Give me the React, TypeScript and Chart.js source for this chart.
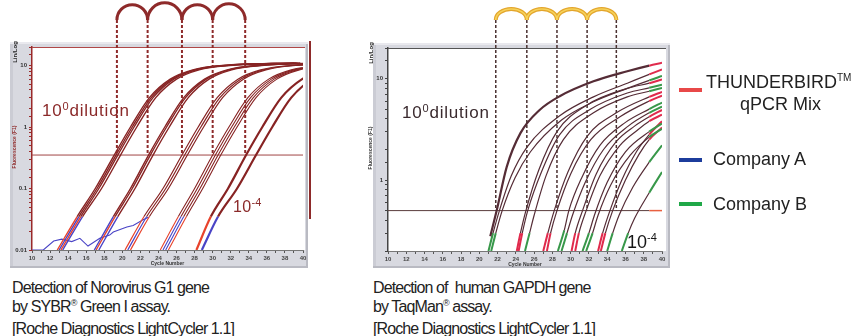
import React, { useEffect, useRef } from 'react';
import { Chart, registerables } from 'chart.js';

Chart.register(...registerables);

// ---------------- shared axis data ----------------
const CYCLE_MIN = 10;
const CYCLE_MAX = 40;
const CYCLE_LABELS = [10, 12, 14, 16, 18, 20, 22, 24, 26, 28, 30, 32, 34, 36, 38, 40];

// ---------------- left panel: Norovirus G1, SYBR Green ----------------
const LEFT_Y_MIN = 0.01;
const LEFT_Y_MAX = 20;
const LEFT_Y_LABEL_VALUES = [0.01, 0.1, 1, 10];
const LEFT_Y_LABELS = ['0.01', '0.1', '1', '10'];
const LEFT_THRESHOLD = 0.35;
const LEFT_CT = [19.4, 22.8, 26.6, 30.0, 33.6];
// fluorescence levels; each curve lists the cycle at which it reaches each level
const LEFT_LEVELS = [0.01, 0.035, 0.1, 0.35, 1, 3, 6, 8.5, 10, 11];
const LEFT_CURVES = [
  [12.8, 15.0, 17.0, 19.1, 20.9, 23.0, 25.3, 27.8, 31.1, 39.0],
  [13.0, 15.2, 17.2, 19.3, 21.1, 23.2, 25.5, 28.0, 31.3, 39.2],
  [13.2, 15.4, 17.4, 19.5, 21.3, 23.4, 25.7, 28.2, 31.5, 39.4],
  [13.4, 15.6, 17.7, 19.8, 21.6, 23.7, 26.0, 28.5, 31.8, 39.7],
  [16.9, 19.0, 20.9, 22.9, 24.7, 26.8, 29.1, 31.6, 34.9, 42.9],
  [17.1, 19.2, 21.1, 23.1, 24.9, 27.0, 29.3, 31.8, 35.1, 43.1],
  [17.4, 19.5, 21.4, 23.4, 25.2, 27.3, 29.6, 32.1, 35.4, 43.4],
  [20.3, 22.4, 24.5, 26.6, 28.4, 30.5, 32.8, 35.3, 38.6, 46.6],
  [20.6, 22.7, 24.8, 26.9, 28.7, 30.8, 33.1, 35.6, 38.9, 46.9],
  [20.9, 23.0, 25.1, 27.2, 29.0, 31.1, 33.4, 35.9, 39.2, 47.2],
  [24.2, 26.2, 28.0, 30.0, 31.8, 33.9, 36.2, 38.7, 42.0, 50.0],
  [24.5, 26.5, 28.3, 30.3, 32.1, 34.2, 36.5, 39.0, 42.3, 50.3],
  [24.8, 26.8, 28.6, 30.6, 32.4, 34.5, 36.8, 39.3, 42.6, 50.6],
  [25.1, 27.1, 28.9, 30.9, 32.7, 34.8, 37.1, 39.6, 42.9, 50.9],
  [28.2, 29.8, 31.7, 33.7, 35.5, 37.6, 39.9, 42.4, 45.7, 53.7],
  [28.8, 30.6, 32.7, 34.8, 36.6, 38.7, 41.0, 43.5, 46.8, 54.8],
];
// kit that the early (baseline) part of each curve belongs to
const LEFT_START_KIT = ['T', 'A', 'T', 'A', 'A', 'T', 'A', 'T', 'A', 'T', 'T', 'A', 'A', 'T', 'T', 'A'];
const LEFT_NOISE_X = [10, 11.25, 12.4, 13.3, 14.4, 15.3, 16.2, 17.5, 18.6, 19.0, 20.5, 21.2, 22.3, 22.9];
const LEFT_NOISE_Y = [0.01, 0.01, 0.014, 0.015, 0.0137, 0.0155, 0.0116, 0.0155, 0.0175, 0.0196, 0.0236, 0.025, 0.031, 0.034];

// ---------------- right panel: human GAPDH, TaqMan ----------------
const RIGHT_Y_MIN = 0.2;
const RIGHT_Y_MAX = 20;
const RIGHT_Y_LABEL_VALUES = [1, 10];
const RIGHT_Y_LABELS = ['1', '10'];
const RIGHT_THRESHOLD = 0.5;
const RIGHT_THRESHOLD_MARK_FROM = 38.6;
const RIGHT_CT = [21.8, 25.2, 28.5, 31.8, 35.0];
const RIGHT_CURVES = [
  [[21.2, 0.28], [21.9, 0.5], [23.0, 1.35], [24.5, 2.9], [26.6, 4.9], [28.8, 6.7], [32.5, 9.4], [36.2, 11.8], [38.6, 13.4], [40, 14.3]],
  [[21.0, 0.2], [21.5, 0.3], [22.2, 0.5], [23.5, 1.1], [25.2, 2.1], [28.8, 4.3], [32.5, 6.6], [36.2, 9.0], [38.6, 11.0], [40, 12.3]],
  [[21.3, 0.2], [21.8, 0.3], [22.5, 0.5], [23.9, 1.05], [25.6, 1.9], [29.0, 3.9], [32.5, 5.9], [36.2, 8.0], [38.6, 9.6], [40, 10.6]],
  [[24.1, 0.2], [24.5, 0.3], [25.1, 0.5], [26.5, 1.25], [28.5, 3.0], [31.8, 5.5], [36.2, 8.0], [38.6, 9.0], [40, 9.8]],
  [[24.3, 0.2], [24.7, 0.3], [25.3, 0.5], [26.8, 1.2], [28.8, 2.8], [32.2, 5.0], [36.2, 7.2], [38.6, 8.1], [40, 8.7]],
  [[25.0, 0.2], [25.5, 0.3], [26.0, 0.45], [27.3, 1.1], [29.2, 2.5], [32.5, 4.6], [36.2, 6.6], [38.6, 7.5], [40, 8.1]],
  [[27.0, 0.2], [27.5, 0.3], [28.2, 0.5], [29.7, 1.2], [31.8, 2.7], [35.0, 4.6], [38.6, 6.6], [40, 7.4]],
  [[27.4, 0.2], [27.8, 0.3], [28.5, 0.5], [30.0, 1.15], [32.2, 2.5], [35.4, 4.2], [38.6, 6.0], [40, 6.8]],
  [[28.6, 0.2], [29.3, 0.32], [29.8, 0.5], [31.2, 1.05], [33.2, 2.2], [36.0, 3.7], [38.6, 5.0], [40, 5.8]],
  [[29.0, 0.2], [29.6, 0.3], [30.2, 0.45], [31.6, 0.95], [33.6, 2.0], [36.3, 3.4], [38.6, 4.6], [40, 5.3]],
  [[30.1, 0.2], [30.5, 0.3], [31.3, 0.5], [32.8, 1.15], [35.0, 2.4], [37.0, 3.4], [38.6, 4.2], [40, 4.9]],
  [[30.5, 0.2], [30.9, 0.3], [31.7, 0.5], [33.2, 1.1], [35.4, 2.2], [37.3, 3.1], [38.6, 3.8], [40, 4.4]],
  [[31.3, 0.2], [32.0, 0.3], [32.6, 0.45], [34.0, 0.95], [36.0, 1.9], [38.6, 3.0], [40, 3.6]],
  [[31.7, 0.2], [32.4, 0.3], [33.0, 0.45], [34.4, 0.9], [36.5, 1.75], [38.6, 2.65], [40, 3.2]],
  [[33.0, 0.2], [33.5, 0.3], [34.3, 0.5], [35.6, 1.0], [37.2, 1.9], [38.6, 2.8], [40, 3.8]],
  [[33.3, 0.2], [33.8, 0.3], [34.6, 0.5], [36.0, 1.0], [37.5, 1.8], [38.6, 2.5], [40, 3.3]],
  [[34.0, 0.2], [34.6, 0.3], [35.3, 0.45], [36.8, 0.85], [38.6, 1.5], [40, 2.2]],
  [[35.6, 0.2], [36.3, 0.3], [37.0, 0.42], [38.6, 0.75], [40, 1.2]],
];
const RIGHT_START_KIT = ['', 'B', 'B', 'T', 'T', 'B', 'T', 'T', 'B', 'B', 'T', 'T', 'B', 'B', 'T', 'T', 'B', 'B'];
const RIGHT_END_KIT = ['T', 'T', 'B', 'T', 'B', 'B', 'T', 'T', 'B', 'B', 'T', 'T', 'B', 'B', 'T', 'T', 'B', 'B'];

// ---------------- styles ----------------
const LEFT_LINE = '#872323';
const LEFT_KIT_COLORS: Record<string, string> = { T: '#e8432c', A: '#4a44c6', B: '#2e9a44' };
const LEFT_WIDTHS = [1.4, 1.4, 1.4, 1.4, 1.4, 1.4, 1.4, 1.2, 1.2, 1.2, 1.1, 1.1, 1.1, 1.1, 2.2, 2.2];
const RIGHT_LINE = '#552c36';
const RIGHT_KIT_COLORS: Record<string, string> = { T: '#e02a4c', A: '#2a3aa0', B: '#38984a' };
const FONT = '"Liberation Sans", Arial, sans-serif';

function labelFor(values: number[], labels: string[]) {
  return (v: number | string) => {
    const n = Number(v);
    for (let i = 0; i < values.length; i++) {
      if (Math.abs(n - values[i]) < values[i] * 1e-6) return labels[i];
    }
    return '';
  };
}

type DecorCfg = {
  frame: { l: number; t: number; r: number; b: number };
  whiteExtra: number;
  topLine: string;
  dashColor: string;
  dashWidth: number;
  ct: number[];
  threshold: number;
  arcLift: number;
  arcRy: number | null;
  arcColor: string;
  arcInner: string | null;
  arcWidth: number;
  sideBar: boolean;
  yTitleColor: string;
};

function makeDecor(cfg: DecorCfg) {
  return {
    id: 'decor',
    beforeDraw(chart: any) {
      const { ctx, chartArea: a } = chart;
      ctx.save();
      const fx = a.left - cfg.frame.l;
      const fy = a.top - cfg.frame.t;
      const fw = a.right + cfg.frame.r - fx;
      const fh = a.bottom + cfg.frame.b - fy;
      ctx.fillStyle = '#d8d9e0';
      ctx.fillRect(fx, fy, fw, fh);
      ctx.fillStyle = '#cbccd4';
      ctx.fillRect(fx, fy, 3, fh);
      ctx.fillStyle = '#b9bac2';
      ctx.fillRect(fx, fy + fh - 2, fw, 2);
      ctx.fillRect(fx + fw - 2, fy, 2, fh);
      ctx.fillStyle = '#e9e9ee';
      ctx.fillRect(fx, fy, fw, 2);
      ctx.fillStyle = '#ffffff';
      ctx.fillRect(a.left, a.top, a.width + cfg.whiteExtra, a.height);
      ctx.restore();
    },
    afterDatasetsDraw(chart: any) {
      const { ctx, chartArea: a, scales } = chart;
      const xs = scales.x;
      const ys = scales.y;
      ctx.save();
      ctx.strokeStyle = cfg.topLine;
      ctx.lineWidth = 1;
      ctx.beginPath();
      ctx.moveTo(a.left, a.top + 0.5);
      ctx.lineTo(a.right + cfg.whiteExtra, a.top + 0.5);
      ctx.stroke();
      if (cfg.sideBar) {
        ctx.fillStyle = '#8e2a2a';
        ctx.fillRect(a.right + 6, a.top - 6, 2, 178);
      }
      const baseY = a.top - cfg.arcLift;
      const thY = ys.getPixelForValue(cfg.threshold);
      const px = cfg.ct.map((c) => xs.getPixelForValue(c));
      ctx.strokeStyle = cfg.dashColor;
      ctx.lineWidth = cfg.dashWidth;
      ctx.setLineDash([3, 2]);
      px.forEach((p) => {
        ctx.beginPath();
        ctx.moveTo(p, baseY);
        ctx.lineTo(p, thY);
        ctx.stroke();
      });
      ctx.setLineDash([]);
      const drawArcs = (color: string, width: number) => {
        ctx.strokeStyle = color;
        ctx.lineWidth = width;
        for (let i = 0; i < px.length - 1; i++) {
          const cx = (px[i] + px[i + 1]) / 2;
          const r = (px[i + 1] - px[i]) / 2;
          ctx.beginPath();
          ctx.ellipse(cx, baseY, r, cfg.arcRy ?? r, 0, Math.PI, 2 * Math.PI);
          ctx.stroke();
        }
      };
      drawArcs(cfg.arcColor, cfg.arcWidth);
      if (cfg.arcInner) drawArcs(cfg.arcInner, cfg.arcWidth / 2.5);
      ctx.fillStyle = '#333';
      ctx.font = `bold 5px ${FONT}`;
      ctx.textAlign = 'center';
      ctx.textBaseline = 'middle';
      ctx.fillText('Cycle Number', (a.left + a.right) / 2, a.bottom + 14);
      ctx.save();
      ctx.translate(a.left - 17, a.top + 100);
      ctx.rotate(-Math.PI / 2);
      ctx.fillStyle = cfg.yTitleColor;
      ctx.fillText('Fluorescence (F1)', 0, 0);
      ctx.restore();
      ctx.save();
      ctx.translate(a.left - 17, a.top + 5);
      ctx.rotate(-Math.PI / 2);
      ctx.fillStyle = '#222';
      ctx.font = `bold 6px ${FONT}`;
      ctx.fillText('Lin/Log', 0, 0);
      ctx.restore();
      ctx.restore();
    },
  };
}

function axisOptions(yMin: number, yMax: number, yValues: number[], yLabels: string[], yAxisColor: string, yW: number, xH: number) {
  return {
    x: {
      type: 'linear',
      min: CYCLE_MIN,
      max: CYCLE_MAX,
      afterFit: (s: any) => { s.height = xH; },
      ticks: {
        stepSize: 1,
        autoSkip: false,
        maxRotation: 0,
        padding: 2,
        color: '#444',
        font: { size: 6, weight: 'bold', family: FONT },
        callback: (v: any) => (CYCLE_LABELS.includes(Number(v)) ? String(v) : ''),
      },
      grid: { drawOnChartArea: false, drawTicks: true, tickLength: 3, color: '#555' },
      border: { color: '#777', width: 1 },
    },
    y: {
      type: 'logarithmic',
      min: yMin,
      max: yMax,
      afterFit: (s: any) => { s.width = yW; },
      ticks: {
        autoSkip: false,
        padding: 2,
        color: '#333',
        font: { size: 6, weight: 'bold', family: FONT },
        callback: labelFor(yValues, yLabels),
      },
      grid: { drawOnChartArea: false, drawTicks: true, tickLength: 3, color: yAxisColor },
      border: { color: yAxisColor, width: 1.5 },
    },
  };
}

function LeftChart() {
  const ref = useRef<HTMLCanvasElement>(null);
  useEffect(() => {
    const datasets: any[] = [];
    LEFT_CURVES.forEach((xs, i) => {
      const kit = LEFT_START_KIT[i];
      datasets.push({
        data: xs.map((x, j) => ({ x, y: LEFT_LEVELS[j] })),
        borderColor: LEFT_LINE,
        borderWidth: LEFT_WIDTHS[i],
        pointRadius: 0,
        cubicInterpolationMode: 'monotone',
        segment: {
          borderColor: (c: any) => (c.p0DataIndex === 0 ? LEFT_KIT_COLORS[kit] : undefined),
        },
      });
    });
    datasets.push({
      data: LEFT_NOISE_X.map((x, j) => ({ x, y: LEFT_NOISE_Y[j] })),
      borderColor: LEFT_KIT_COLORS.A,
      borderWidth: 1.1,
      pointRadius: 0,
      tension: 0,
    });
    datasets.push({
      data: [{ x: CYCLE_MIN, y: LEFT_THRESHOLD }, { x: CYCLE_MAX, y: LEFT_THRESHOLD }],
      borderColor: '#a04545',
      borderWidth: 1,
      pointRadius: 0,
      tension: 0,
    });
    const chart = new Chart(ref.current as HTMLCanvasElement, {
      type: 'line',
      data: { datasets },
      options: {
        responsive: false,
        animation: false,
        events: [],
        layout: { padding: { left: 0, right: 27, top: 47, bottom: 0 } },
        plugins: { legend: { display: false }, tooltip: { enabled: false } },
        scales: axisOptions(LEFT_Y_MIN, LEFT_Y_MAX, LEFT_Y_LABEL_VALUES, LEFT_Y_LABELS, '#9a2a2a', 32, 20) as any,
      },
      plugins: [
        makeDecor({
          frame: { l: 22, t: 5, r: 5, b: 18 },
          whiteExtra: 2,
          topLine: '#b04848',
          dashColor: '#8e2a2a',
          dashWidth: 2,
          ct: LEFT_CT,
          threshold: LEFT_THRESHOLD,
          arcLift: 27,
          arcRy: null,
          arcColor: '#8e2a2a',
          arcInner: null,
          arcWidth: 3,
          sideBar: true,
          yTitleColor: '#8e2a2a',
        }),
      ],
    });
    return () => chart.destroy();
  }, []);
  return <canvas ref={ref} width={330} height={270} style={{ position: 'absolute', left: 0, top: 0 }} />;
}

function RightChart() {
  const ref = useRef<HTMLCanvasElement>(null);
  useEffect(() => {
    const datasets: any[] = [];
    RIGHT_CURVES.forEach((pts, i) => {
      const sk = RIGHT_START_KIT[i];
      const ek = RIGHT_END_KIT[i];
      const last = pts.length - 1;
      datasets.push({
        data: pts.map(([x, y]) => ({ x, y })),
        borderColor: RIGHT_LINE,
        borderWidth: i === 0 ? 2.2 : 1.2,
        pointRadius: 0,
        cubicInterpolationMode: 'monotone',
        segment: {
          borderColor: (c: any) => {
            if (c.p0DataIndex === 0 && sk) return RIGHT_KIT_COLORS[sk];
            if (c.p1DataIndex === last && ek) return RIGHT_KIT_COLORS[ek];
            return undefined;
          },
          borderWidth: (c: any) => (c.p1DataIndex === last || (c.p0DataIndex === 0 && sk) ? 2 : undefined),
        },
      });
    });
    datasets.push({
      data: [
        { x: CYCLE_MIN, y: RIGHT_THRESHOLD },
        { x: RIGHT_THRESHOLD_MARK_FROM, y: RIGHT_THRESHOLD },
        { x: CYCLE_MAX, y: RIGHT_THRESHOLD },
      ],
      borderColor: '#5a3c3c',
      borderWidth: 1,
      pointRadius: 0,
      tension: 0,
      segment: {
        borderColor: (c: any) => (c.p0DataIndex === 1 ? '#e86040' : undefined),
        borderWidth: (c: any) => (c.p0DataIndex === 1 ? 1.5 : undefined),
      },
    });
    const chart = new Chart(ref.current as HTMLCanvasElement, {
      type: 'line',
      data: { datasets },
      options: {
        responsive: false,
        animation: false,
        events: [],
        layout: { padding: { left: 0, right: 18, top: 48, bottom: 0 } },
        plugins: { legend: { display: false }, tooltip: { enabled: false } },
        scales: axisOptions(RIGHT_Y_MIN, RIGHT_Y_MAX, RIGHT_Y_LABEL_VALUES, RIGHT_Y_LABELS, '#444', 28, 19) as any,
      },
      plugins: [
        makeDecor({
          frame: { l: 15, t: 5, r: 8, b: 17 },
          whiteExtra: 4,
          topLine: '#555',
          dashColor: '#4a3030',
          dashWidth: 1.5,
          ct: RIGHT_CT,
          threshold: RIGHT_THRESHOLD,
          arcLift: 28,
          arcRy: 11,
          arcColor: '#e3a52c',
          arcInner: '#f6d25a',
          arcWidth: 4,
          sideBar: false,
          yTitleColor: '#333',
        }),
      ],
    });
    return () => chart.destroy();
  }, []);
  return <canvas ref={ref} width={320} height={270} style={{ position: 'absolute', left: 360, top: 0 }} />;
}

const sup = (size: number, top: number): React.CSSProperties => ({ fontSize: size, position: 'relative', top: -top });

function Abs({ left, top, size, color, spacing, lh, children }: any) {
  return (
    <div
      style={{
        position: 'absolute',
        left,
        top,
        fontFamily: FONT,
        fontSize: size,
        lineHeight: `${lh ?? size + 3}px`,
        color,
        letterSpacing: spacing ?? 0,
        whiteSpace: 'pre',
      }}
    >
      {children}
    </div>
  );
}

export default function App() {
  return (
    <div style={{ position: 'absolute', left: 0, top: 0, width: 852, height: 336, background: '#fff', overflow: 'hidden' }}>
      <LeftChart />
      <RightChart />

      <Abs left={42} top={101} size={17} color="#8b2a2a" spacing={0.8} lh={20}>
        10<span style={sup(11, 6)}>0</span>dilution
      </Abs>
      <Abs left={233} top={197} size={16} color="#8b2a2a" spacing={0.3} lh={19}>
        10<span style={sup(11, 6)}>-4</span>
      </Abs>
      <Abs left={402} top={103} size={17} color="#3a2a2e" spacing={0.8} lh={20}>
        10<span style={sup(11, 6)}>0</span>dilution
      </Abs>
      <Abs left={627} top={232} size={18} color="#151515" spacing={0} lh={20}>
        10<span style={sup(11, 7)}>-4</span>
      </Abs>

      <Abs left={12} top={278} size={16} color="#222" spacing={-0.9} lh={19}>
        {'Detection of Norovirus G1 gene\nby SYBR'}
        <span style={sup(9, 6)}>®</span>
        {' Green I assay.\n[Roche Diagnostics LightCycler 1.1]'}
      </Abs>
      <Abs left={373} top={278} size={16} color="#222" spacing={-0.9} lh={19}>
        {'Detection of  human GAPDH gene\nby TaqMan'}
        <span style={sup(9, 6)}>®</span>
        {' assay.\n[Roche Diagnostics LightCycler 1.1]'}
      </Abs>

      <div style={{ position: 'absolute', left: 679, top: 88, width: 23, height: 4, background: '#e84848' }} />
      <Abs left={706} top={72} size={18} color="#222" lh={20}>
        THUNDERBIRD<span style={sup(10, 7)}>TM</span>
      </Abs>
      <Abs left={740} top={94} size={18} color="#222" lh={20}>
        qPCR Mix
      </Abs>
      <div style={{ position: 'absolute', left: 679, top: 158, width: 23, height: 4, background: '#1c3c9c' }} />
      <Abs left={713} top={149} size={18} color="#222" lh={20}>
        Company A
      </Abs>
      <div style={{ position: 'absolute', left: 679, top: 202, width: 23, height: 4, background: '#20a848' }} />
      <Abs left={713} top={194} size={18} color="#222" lh={20}>
        Company B
      </Abs>
    </div>
  );
}
